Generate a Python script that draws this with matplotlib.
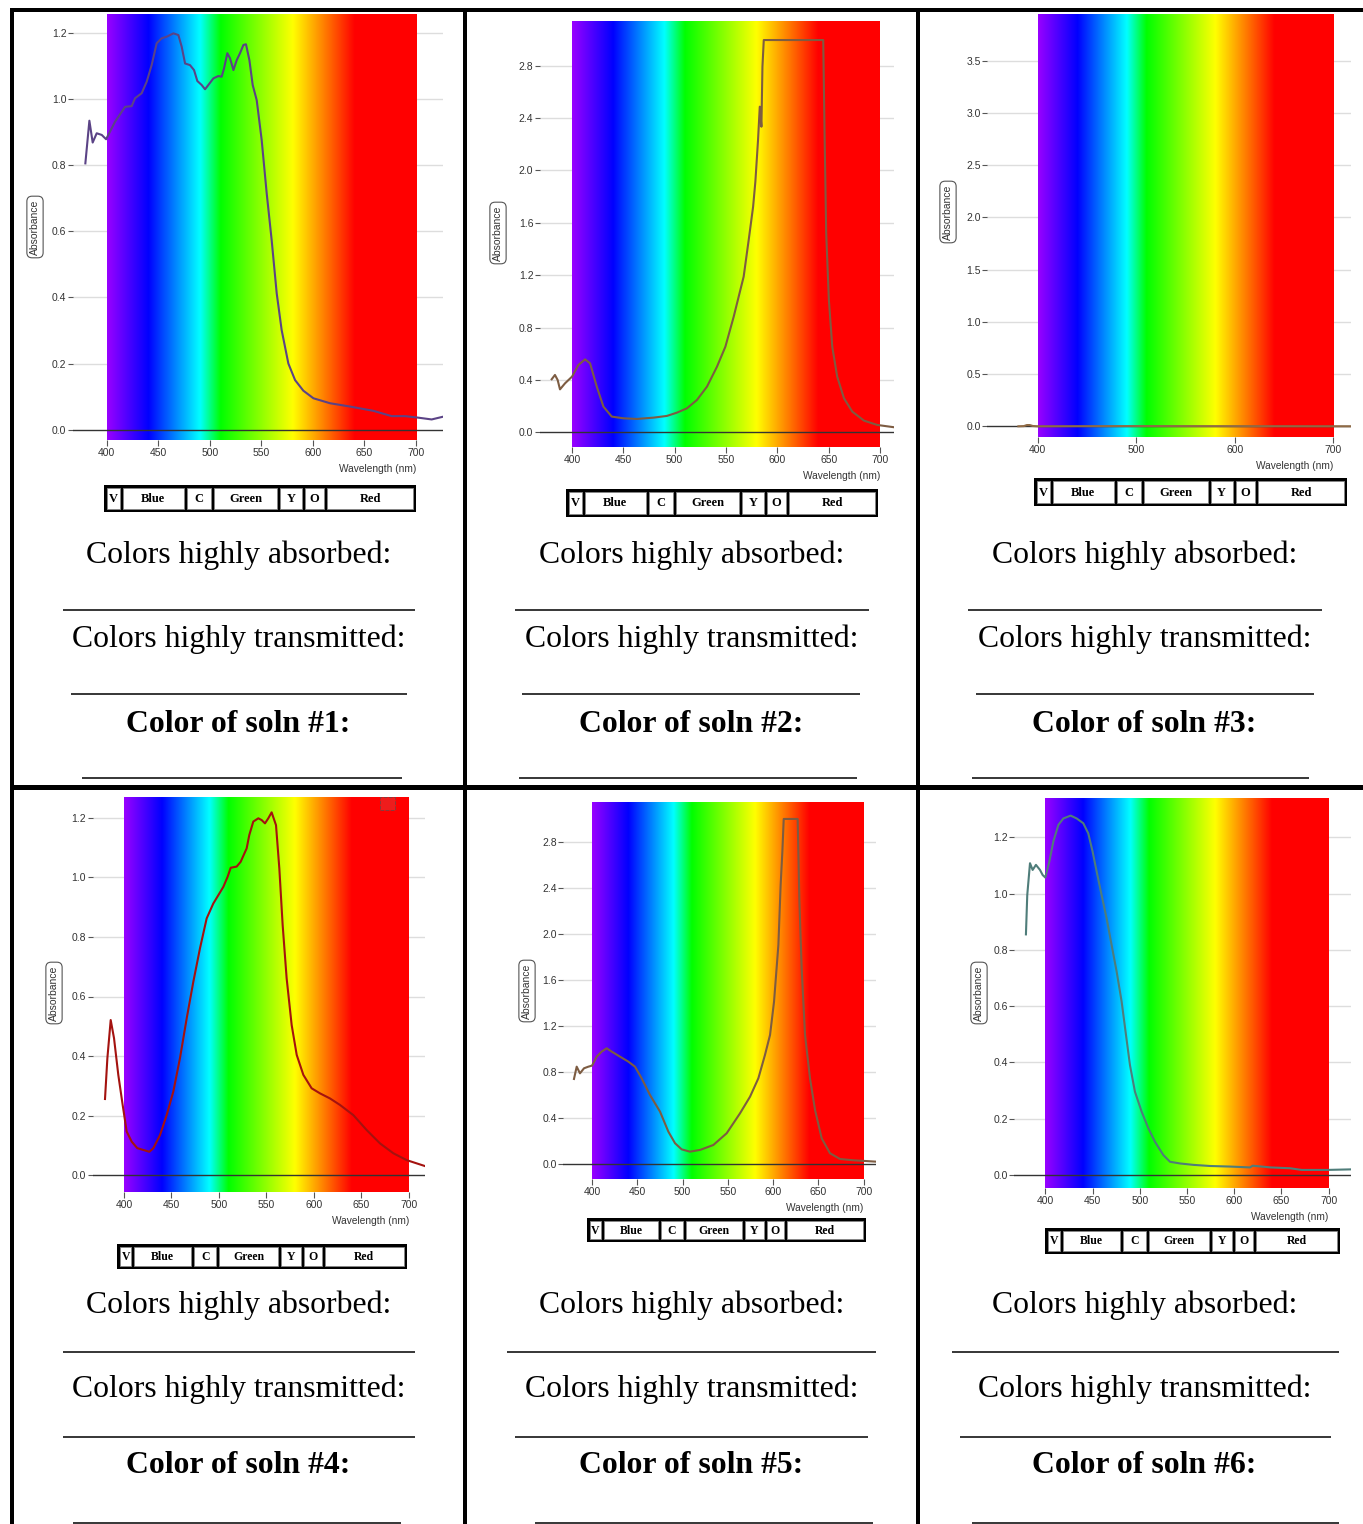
"""
Absorbance spectra worksheet: six spectra on a visible-light gradient,
each with a colour key and blanks to fill in.
"""
import numpy as np
import matplotlib
matplotlib.use("Agg")
import matplotlib.pyplot as plt
from matplotlib.patches import Rectangle

W, H = 1363, 1524

# ---- spectra: wavelength (nm) / absorbance ----
wl1 = [379.3, 383.2, 386.4, 390.3, 395.2, 399.4, 403.2, 408.1, 417.8, 424.2,
       427.5, 433.9, 438.8, 443.6, 448.5, 453.3, 458.2, 464.7, 469.5, 472.7,
       476.0, 480.8, 484.7, 487.9, 492.1, 495.4, 498.6, 503.5, 508.3, 511.5,
       513.8, 517.0, 519.6, 522.9, 526.1, 529.3, 532.6, 535.1, 538.4, 541.6,
       545.5, 550.3, 555.2, 560.0, 564.9, 569.7, 576.2, 582.7, 590.7, 600.5,
       616.6, 636.0, 658.7, 676.4, 689.4, 700.7, 715.2, 725.9]
ab1 = [0.805, 0.934, 0.868, 0.896, 0.891, 0.878, 0.901, 0.931, 0.976, 0.978,
       1.002, 1.017, 1.052, 1.102, 1.168, 1.183, 1.188, 1.198, 1.193, 1.158,
       1.107, 1.102, 1.087, 1.054, 1.042, 1.029, 1.042, 1.062, 1.069, 1.067,
       1.092, 1.138, 1.123, 1.087, 1.117, 1.138, 1.163, 1.165, 1.117, 1.042,
       0.996, 0.876, 0.714, 0.573, 0.412, 0.301, 0.200, 0.150, 0.118, 0.095,
       0.080, 0.070, 0.057, 0.041, 0.041, 0.037, 0.031, 0.039]

wl2 = [380.2, 383.4, 386.0, 388.3, 393.2, 400.0, 406.2, 412.7, 417.6, 424.1,
       430.6, 438.7, 450.1, 463.1, 479.4, 492.4, 502.2, 511.9, 521.7, 531.5,
       541.2, 549.4, 557.5, 567.2, 572.1, 576.4, 578.6, 581.2, 582.9, 584.5,
       585.5, 586.8, 644.7, 646.0, 647.6, 650.2, 653.5, 658.3, 664.9, 673.0,
       684.4, 697.4, 714.3]
ab2 = [0.405, 0.438, 0.400, 0.328, 0.374, 0.425, 0.514, 0.557, 0.527, 0.349,
       0.196, 0.120, 0.107, 0.102, 0.112, 0.125, 0.150, 0.183, 0.247, 0.349,
       0.501, 0.654, 0.883, 1.189, 1.469, 1.723, 1.914, 2.232, 2.487, 2.334,
       2.792, 2.996, 2.996, 2.283, 1.520, 1.011, 0.654, 0.425, 0.260, 0.158,
       0.089, 0.056, 0.038]

wl3 = [380.4, 386.0, 389.0, 392.0, 395.0, 400.0, 500.0, 600.0, 718.0]
ab3 = [0.000, 0.002, 0.012, 0.012, 0.003, 0.000, 0.002, 0.001, 0.000]

wl4 = [380.0, 382.5, 386.0, 389.5, 394.0, 398.6, 402.8, 408.1, 414.0, 420.4,
       426.7, 430.9, 437.9, 444.9, 451.9, 458.9, 466.0, 473.0, 480.0, 487.0,
       494.0, 499.3, 504.6, 509.1, 512.3, 518.6, 522.8, 529.1, 531.9, 536.1,
       541.4, 544.9, 548.4, 551.9, 555.4, 560.0, 563.5, 567.0, 571.2, 576.5,
       581.8, 588.8, 597.5, 606.3, 616.8, 627.4, 641.4, 655.4, 669.5, 683.5,
       697.5, 716.8]
ab4 = [0.256, 0.393, 0.521, 0.460, 0.337, 0.236, 0.147, 0.113, 0.091, 0.085,
       0.079, 0.091, 0.135, 0.202, 0.281, 0.393, 0.527, 0.650, 0.762, 0.862,
       0.912, 0.940, 0.968, 1.002, 1.032, 1.036, 1.052, 1.097, 1.142, 1.187,
       1.198, 1.192, 1.181, 1.198, 1.218, 1.175, 1.030, 0.840, 0.661, 0.504,
       0.404, 0.337, 0.292, 0.275, 0.258, 0.236, 0.202, 0.152, 0.107, 0.074,
       0.051, 0.031]

wl5 = [380.1, 383.1, 386.7, 391.2, 396.0, 400.0, 405.2, 410.7, 416.2, 421.7,
       430.9, 440.1, 447.5, 454.8, 464.0, 475.1, 484.3, 491.7, 499.0, 508.2,
       519.3, 534.0, 548.7, 563.4, 574.5, 583.7, 591.0, 596.6, 601.0, 605.8,
       608.3, 610.2, 611.7, 627.1, 629.0, 631.5, 635.2, 640.7, 646.3, 653.6,
       662.8, 673.9, 688.6, 713.6]
ab5 = [0.742, 0.849, 0.791, 0.835, 0.849, 0.858, 0.936, 0.980, 1.009, 0.980,
       0.936, 0.893, 0.849, 0.748, 0.603, 0.458, 0.284, 0.183, 0.130, 0.110,
       0.125, 0.168, 0.270, 0.443, 0.588, 0.748, 0.951, 1.125, 1.414, 1.907,
       2.429, 2.719, 3.003, 3.003, 2.284, 1.704, 1.125, 0.748, 0.472, 0.226,
       0.096, 0.046, 0.035, 0.023]

wl6 = [379.5, 380.9, 383.8, 386.6, 390.1, 394.4, 397.2, 400.0, 404.2, 408.5,
       413.8, 419.1, 426.8, 433.2, 440.2, 445.5, 450.1, 454.4, 459.6, 464.9,
       470.2, 475.5, 480.8, 485.4, 489.6, 494.9, 502.0, 509.1, 516.1, 524.9,
       532.0, 542.6, 556.7, 574.4, 595.5, 616.7, 619.5, 637.9, 659.1, 671.4,
       697.9, 723.6]
ab6 = [0.855, 0.995, 1.108, 1.084, 1.102, 1.084, 1.066, 1.057, 1.113, 1.185,
       1.244, 1.267, 1.277, 1.267, 1.250, 1.214, 1.149, 1.078, 0.995, 0.912,
       0.817, 0.723, 0.616, 0.498, 0.391, 0.296, 0.225, 0.166, 0.118, 0.071,
       0.047, 0.041, 0.036, 0.032, 0.030, 0.027, 0.033, 0.027, 0.024, 0.018,
       0.018, 0.020]

spectra = [(wl1, ab1), (wl2, ab2), (wl3, ab3), (wl4, ab4), (wl5, ab5), (wl6, ab6)]
line_colors = ["#5b4386", "#7d5c42", "#8f6a45", "#a4120f", "#7d5c42", "#4f7d7a"]
y_ticks = [np.arange(0, 1.21, 0.2), np.arange(0, 2.81, 0.4), np.arange(0, 3.51, 0.5),
           np.arange(0, 1.21, 0.2), np.arange(0, 2.81, 0.4), np.arange(0, 1.21, 0.2)]
x_steps = [50, 50, 100, 50, 50, 50]

key_names = ["V", "Blue", "C", "Green", "Y", "O", "Red"]
key_edges = [0, 0.055, 0.26, 0.348, 0.56, 0.639, 0.711, 1.0]

# ---- page layout, pixels ----
# gx0/gx1: 400/700 nm, al/ar: axes left/right, top/bot, y0: y=0, yref: (value, px)
layout = [
    dict(gx0=106.7, gx1=416.0, al=73.0, ar=442.7, top=14.0, bot=440.0, y0=429.7, yref=(1.2, 32.7),
         key=(104, 416, 485, 512), lab=(35, 227)),
    dict(gx0=572.0, gx1=880.0, al=540.0, ar=894.0, top=20.7, bot=447.3, y0=432.3, yref=(2.8, 65.7),
         key=(566, 878, 489, 517), lab=(498, 233)),
    dict(gx0=1037.7, gx1=1333.3, al=987.3, ar=1351.0, top=14.0, bot=436.7, y0=426.3, yref=(3.5, 60.7),
         key=(1034, 1347, 478, 506), lab=(948, 212)),
    dict(gx0=124.0, gx1=409.0, al=92.7, ar=425.0, top=796.7, bot=1191.7, y0=1175.3, yref=(1.2, 817.7),
         key=(117, 407, 1244, 1269), lab=(54, 993)),
    dict(gx0=592.0, gx1=863.7, al=563.3, ar=876.0, top=802.3, bot=1178.7, y0=1164.3, yref=(2.8, 842.3),
         key=(587, 866, 1218, 1242), lab=(527, 991)),
    dict(gx0=1045.3, gx1=1328.7, al=1014.3, ar=1351.0, top=798.3, bot=1188.3, y0=1175.0, yref=(1.2, 837.3),
         key=(1045, 1340, 1228, 1254), lab=(979, 993)),
]

col_centers = [238.5, 691.5, 1144.5]
text_base = [(563.3, 646.7, 732.3), (1313.3, 1396.7, 1473.3)]
rule_y = [(610.0, 694.0, 778.3), (1351.7, 1436.7, 1523.0)]
rules = [
    [[(62.7, 415), (70.7, 406.7), (82, 402)],
     [(515, 869), (522, 860), (519, 857)],
     [(968, 1322), (976, 1314), (972, 1309)]],
    [[(62.7, 415), (62.7, 415), (73, 401)],
     [(507, 876), (515, 868), (535, 873)],
     [(952, 1339), (960, 1331), (972, 1339)]],
]

# spectrum gradient stops (nm, rgb)
stops_nm = [400, 440, 490, 510, 580, 640, 700]
stops_rgb = np.array([[0.60, 0.0, 1.0], [0.0, 0.0, 1.0], [0.0, 1.0, 1.0], [0.0, 1.0, 0.0],
                      [1.0, 1.0, 0.0], [1.0, 0.0, 0.0], [1.0, 0.0, 0.0]])
grad_nm = np.linspace(400, 700, 600)
grad = np.stack([np.interp(grad_nm, stops_nm, stops_rgb[:, k]) for k in range(3)], axis=-1)[None, :, :]

SANS = "Liberation Sans"
SERIF = "Liberation Serif"

fig = plt.figure(figsize=(W / 100, H / 100), dpi=100)
ov = fig.add_axes([0, 0, 1, 1])
ov.set_xlim(0, W); ov.set_ylim(H, 0); ov.axis("off")

# cell borders
for (x, y, w, h) in [(10, 8, 4, H), (10, 8, W, 4), (462.5, 8, 4, H), (915.5, 8, 4, H), (10, 785, W, 4.5)]:
    ov.add_patch(Rectangle((x, y), w, h, color="black", lw=0))

for i, (lay, (wl, ab)) in enumerate(zip(layout, spectra)):
    ppn = (lay["gx1"] - lay["gx0"]) / 300.0
    xl = 400 + (lay["al"] - lay["gx0"]) / ppn
    xr = 400 + (lay["ar"] - lay["gx0"]) / ppn
    s = lay["yref"][0] / (lay["y0"] - lay["yref"][1])
    yb = -(lay["bot"] - lay["y0"]) * s
    yt = (lay["y0"] - lay["top"]) * s

    ax = fig.add_axes([lay["al"] / W, 1 - lay["bot"] / H,
                       (lay["ar"] - lay["al"]) / W, (lay["bot"] - lay["top"]) / H])
    ax.imshow(grad, extent=(400, 700, yb, yt), aspect="auto", zorder=1, interpolation="bilinear")
    for t in y_ticks[i]:
        if abs(t) < 1e-9:
            ax.axhline(0, color="#333333", lw=1.0, zorder=2.5)
        else:
            ax.axhline(t, color="#dddddd", lw=1.0, zorder=0)
    ax.plot(wl, ab, color=line_colors[i], lw=1.5, zorder=3)
    if i == 3:
        ax.add_patch(Rectangle((669.5, 1.226), 15.8, 0.044, fc="#ee1c1c", ec="#8a3a3a",
                               lw=0.7, ls="--", zorder=2))
    ax.set_xlim(xl, xr); ax.set_ylim(yb, yt)
    ax.set_yticks(y_ticks[i])
    ax.set_yticklabels([f"{t:.1f}" for t in y_ticks[i]], fontfamily=SANS)
    xt = np.arange(400, 701, x_steps[i])
    ax.set_xticks(xt)
    ax.set_xticklabels([str(v) for v in xt], fontfamily=SANS)
    ax.tick_params(axis="y", length=3.6, width=0.8, color="#555555", pad=1.2,
                   labelsize=7.5, labelcolor="#333333")
    ax.tick_params(axis="x", length=4.3, width=0.8, color="#555555", pad=1.5,
                   labelsize=7.5, labelcolor="#333333")
    for sp in ax.spines.values():
        sp.set_visible(False)
    ax.set_facecolor("none")

    # axis titles
    ov.text(lay["gx1"], lay["bot"] + 29, "Wavelength (nm)", ha="right", va="center",
            fontsize=7.3, family=SANS, color="#333333")
    ov.text(lay["lab"][0], lay["lab"][1], "Absorbance", rotation=90, ha="center", va="center",
            fontsize=7.5, family=SANS, color="#333333",
            bbox=dict(boxstyle="round,pad=0.3,rounding_size=0.5", fc="white", ec="#555555", lw=0.8))

    # colour key
    kx0, kx1, ky0, ky1 = lay["key"]
    kw = kx1 - kx0
    ov.add_patch(Rectangle((kx0, ky0), kw, ky1 - ky0, color="black", lw=0))
    fs = 9 if i < 3 else 8.5
    for j, name in enumerate(key_names):
        cx0 = kx0 + key_edges[j] * kw + (3 if j == 0 else 1.5)
        cx1 = kx0 + key_edges[j + 1] * kw - (3 if j == len(key_names) - 1 else 1.5)
        ov.add_patch(Rectangle((cx0, ky0 + 3), cx1 - cx0, ky1 - ky0 - 6,
                               fc="white", ec="#888888", lw=0.6))
        ov.text((cx0 + cx1) / 2, (ky0 + ky1) / 2 + 0.5, name, ha="center", va="center",
                fontsize=fs, family=SERIF, weight="bold")

    # worksheet text
    r, c = divmod(i, 3)
    cx = col_centers[c]
    b1, b2, b3 = text_base[r]
    ov.text(cx, b1, "Colors highly absorbed:", ha="center", va="baseline", fontsize=22.9, family=SERIF)
    ov.text(cx, b2, "Colors highly transmitted:", ha="center", va="baseline", fontsize=22.9, family=SERIF)
    ov.text(cx, b3, f"Color of soln #{i + 1}:", ha="center", va="baseline", fontsize=22.9,
            family=SERIF, weight="bold")
    for (x0, x1), yy in zip(rules[r][c], rule_y[r]):
        ov.plot([x0, x1], [yy, yy], color="black", lw=1.1, solid_capstyle="butt")

fig.savefig("out.png", dpi=100)
